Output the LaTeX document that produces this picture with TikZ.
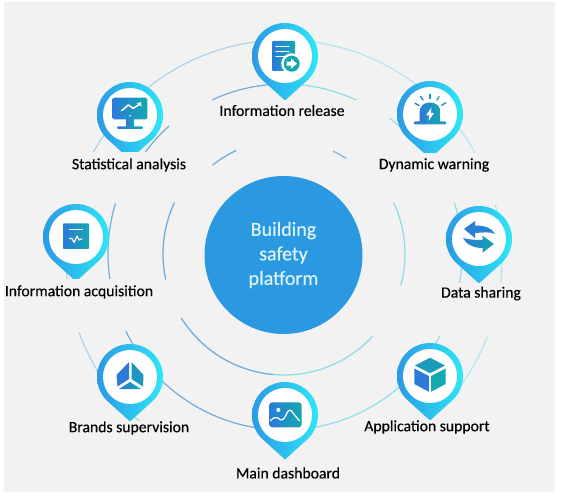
\documentclass[tikz,border=0pt]{standalone}
\usepackage{fontspec}
\setmainfont[RawFeature={embolden=0.35}]{Carlito}
\definecolor{bggrey}{HTML}{F2F2F2}
\definecolor{discblue}{HTML}{2B98E2}
\definecolor{disctext}{HTML}{DDF3FC}
\definecolor{pinleft}{HTML}{2A9AE6}
\definecolor{pinmid}{HTML}{38A9F2}
\definecolor{pinright}{HTML}{2EE6F6}
\definecolor{icona}{HTML}{2B7BD8}
\definecolor{iconb}{HTML}{14A8B0}
\definecolor{ringA}{HTML}{6FAEDF}
\definecolor{ringB}{HTML}{8FDDE8}
\definecolor{ringC}{HTML}{A9CFE9}
\definecolor{ringD}{HTML}{ADE6EF}
\tikzset{
  labeltext/.style={font=\fontsize{15.7}{18}\selectfont,text=black,fill=bggrey,inner sep=0pt,minimum height=#1},
  labeltext/.default=22,
  iconfill/.style={left color=icona,right color=iconb},
  iconline/.style={draw=white,line width=1.2pt,line cap=round,line join=round},
}
% centre x, centre y, radius, from angle, to angle, colour, width
\newcommand{\ringarc}[7]{\draw[#6,line width=#7pt,line cap=round] plot[domain=#4:#5,samples=48,smooth] ({#1+#3*cos(\x)},{#2+#3*sin(\x)});}
\newcommand{\pinat}[3]{%
  \path[left color=pinleft,middle color=pinmid,right color=pinright] (#1,#2+44.5) -- plot[domain=48.6:-228.6,samples=90] ({#1+33*cos(\x)},{#2+33*sin(\x)}) -- cycle;
  \node[circle,fill=white,minimum size=54pt,inner sep=0pt] (#3) at (#1,#2) {};
}
\begin{document}
\begin{tikzpicture}[x=1pt,y=-1pt]
\useasboundingbox (0,0) rectangle (562,494);
\fill[white] (0,0) rectangle (562,494);
\fill[bggrey] (4,2) rectangle (555,492);

% inner ring
\ringarc{284}{254}{121}{168}{205}{ringA}{1.3}
\ringarc{284}{254}{121}{-25}{15}{ringB}{1.3}
\ringarc{284}{254}{121}{95}{148}{ringA}{1.3}
\ringarc{284}{254}{121}{43}{95}{ringB}{1.3}
\ringarc{284}{254}{114}{231.4}{245}{ringA}{1.3}
\ringarc{284}{254}{114}{295.7}{302.9}{ringA!60!ringB}{1.3}
% middle ring
\ringarc{284}{254}{170}{245}{270}{ringA}{1.2}
\ringarc{284}{254}{170}{270}{295}{ringB}{1.2}
\ringarc{284}{254}{172}{216.3}{228}{ringA}{1.2}
\ringarc{284}{254}{172}{308}{321}{ringB}{1.2}
\ringarc{284}{254}{176}{171.9}{196.6}{ringA}{1.2}
\ringarc{284}{254}{178}{-16.5}{10}{ringB}{1.2}
\ringarc{284}{254}{176}{90}{154}{ringA}{1.2}
\ringarc{284}{254}{176}{28}{90}{ringB}{1.2}
% outer ring
\ringarc{284}{258}{218}{209}{270}{ringC}{1.1}
\ringarc{284}{258}{218}{270}{331}{ringD}{1.1}
\ringarc{284}{258}{218}{-14.2}{7}{ringD}{1.1}
\ringarc{284}{258}{218}{21.3}{40}{ringD}{1.1}
\ringarc{284}{258}{218}{172}{182}{ringC}{1.1}
\ringarc{284}{258}{218}{129}{160}{ringC}{1.1}

% central disc
\node[circle,fill=discblue,minimum size=158pt,inner sep=0pt,text=disctext,align=center,font=\fontsize{20}{24.5}\selectfont] (hub) at (283.5,255) {Building\\safety\\platform};

% pins
\pinat{285}{56}{release}
\pinat{130}{115}{stats}
\pinat{430}{114}{warning}
\pinat{479}{239}{sharing}
\pinat{76}{237}{acquire}
\pinat{130}{377}{brands}
\pinat{285}{415}{dashboard}
\pinat{430}{376}{support}

% icon: document with arrow
\begin{scope}[shift={(285,56)}]
  \path[iconfill,rounded corners=1pt] (-13,-15) rectangle (10,15);
  \draw[iconline] (-9,-9.5) -- (4,-9.5) (-9,-4.5) -- (4,-4.5) (-9,0.5) -- (0,0.5);
  \fill[white] (6.7,7.7) circle (10.5);
  \fill[iconb] (6.7,7.7) circle (8);
  \fill[white] (1.7,5.7) -- (6.2,5.7) -- (6.2,2.7) -- (12,7.7) -- (6.2,12.7) -- (6.2,9.7) -- (1.7,9.7) -- cycle;
\end{scope}

% icon: monitor
\begin{scope}[shift={(130,115)}]
  \path[iconfill,rounded corners=1.5pt] (-17.3,-17.3) rectangle (17.3,4.3);
  \path[iconfill] (-4,4.3) rectangle (4,11.5);
  \path[iconfill,rounded corners=1pt] (-13,11.5) rectangle (13,14);
  \draw[iconline,line width=1.5pt] (-8.3,-4.3) -- (-1.7,-10) -- (3.3,-6.7) -- (10,-11);
  \fill[white] (10.8,-13) -- (11.5,-8.5) -- (6.8,-11.5) -- cycle;
  \fill[white] (0,0.8) circle (0.9);
\end{scope}

% icon: alarm lamp
\begin{scope}[shift={(430,114)}]
  \path[iconfill] (-10.5,8) -- (-10.5,-1) .. controls (-10.5,-8) and (-6,-11.5) .. (0,-11.5) .. controls (6,-11.5) and (10.5,-8) .. (10.5,-1) -- (10.5,8) -- cycle;
  \path[iconfill,rounded corners=0.8pt] (-16,7.5) rectangle (16,10.5);
  \fill[white] (1.5,-6.5) -- (-4,1.5) -- (-0.7,1.5) -- (-1.5,7) -- (4,-1) -- (0.7,-1) -- cycle;
  \draw[line width=1.4pt,line cap=round,icona] (-15,-10.7) -- (-11,-8.5) (-9.3,-17.3) -- (-7,-14);
  \draw[line width=1.4pt,line cap=round,icona!50!iconb] (0,-19.7) -- (0,-15.5);
  \draw[line width=1.4pt,line cap=round,iconb] (9,-17.3) -- (7,-14) (15.7,-11.3) -- (11.5,-8.5);
\end{scope}

% icon: exchange arrows
\begin{scope}[shift={(479,239)}]
  \path[left color=icona,right color=icona!70!iconb] (-15,-10) -- (-4,-18) -- (-4,-13.5) .. controls (6,-13.5) and (13,-11) .. (16,-5) .. controls (11,-7.5) and (4,-6.5) .. (-4,-6) -- (-4,-1) -- cycle;
  \path[iconfill] (15,5) -- (3.5,-3.3) -- (3.5,1) .. controls (-4,1) and (-11,0.5) .. (-16,-1) .. controls (-13,5) and (-6,9) .. (3.5,9) -- (3.5,13.7) -- cycle;
\end{scope}

% icon: panel with pulse
\begin{scope}[shift={(76,237)}]
  \path[iconfill,rounded corners=0.8pt] (-13,-13.7) rectangle (13,12);
  \draw[draw=white,line width=0.8pt] (-7,-7.7) -- (7,-7.7);
  \draw[iconline] (-6.5,1.5) -- (-4,1.5) -- (-1.8,5.5) -- (1,-1) -- (3,3) -- (6,2);
\end{scope}

% icon: three panels
\begin{scope}[shift={(130,377)}]
  \fill[icona] (-1,-15) -- (-1,2) -- (-12.5,9.5) -- (-13.5,-2) -- cycle;
  \fill[icona!40!iconb] (1.5,-15) -- (1.5,2) -- (13,9.5) -- (13.5,-2) -- cycle;
  \path[iconfill] (0,5) -- (11,12) -- (-11,12) -- cycle;
\end{scope}

% icon: picture
\begin{scope}[shift={(285,415)}]
  \path[iconfill,rounded corners=3pt] (-15.7,-12.7) rectangle (16.7,12.3);
  \fill[white] (-6.7,-5) circle (2);
  \draw[iconline] (-14.5,5.7) .. controls (-11,2) and (-9,2) .. (-7,3) .. controls (-4,6.5) and (-1,5) .. (1,0) .. controls (3,-6) and (6,-6) .. (8,-2) -- (14.3,5.7);
\end{scope}

% icon: cube
\begin{scope}[shift={(430,376)}]
  \fill[iconb!70!icona] (0,-18.3) -- (15,-10.5) -- (0,-2.8) -- (-15,-10.5) -- cycle;
  \fill[icona] (-15.7,-7.5) -- (-1.2,0) -- (-1.2,15.7) -- (-15.7,8) -- cycle;
  \fill[iconb] (15.7,-7.5) -- (1.2,0) -- (1.2,15.7) -- (15.7,8) -- cycle;
\end{scope}

% labels
\node[labeltext=20] (lrelease) at (282,110.5) {Information release};
\node[labeltext=26] (lstats) at (129,165) {Statistical analysis};
\node[labeltext=24] (lwarning) at (434,165) {Dynamic warning};
\node[labeltext=20] (lsharing) at (481,293.5) {Data sharing};
\node[labeltext=26] (lacquire) at (79,292) {Information acquisition};
\node[labeltext=14] (lbrands) at (129,428) {Brands supervision};
\node[labeltext=20] (ldashboard) at (288,473) {Main dashboard};
\node[labeltext=14] (lsupport) at (427,427) {Application support};
\end{tikzpicture}
\end{document}
